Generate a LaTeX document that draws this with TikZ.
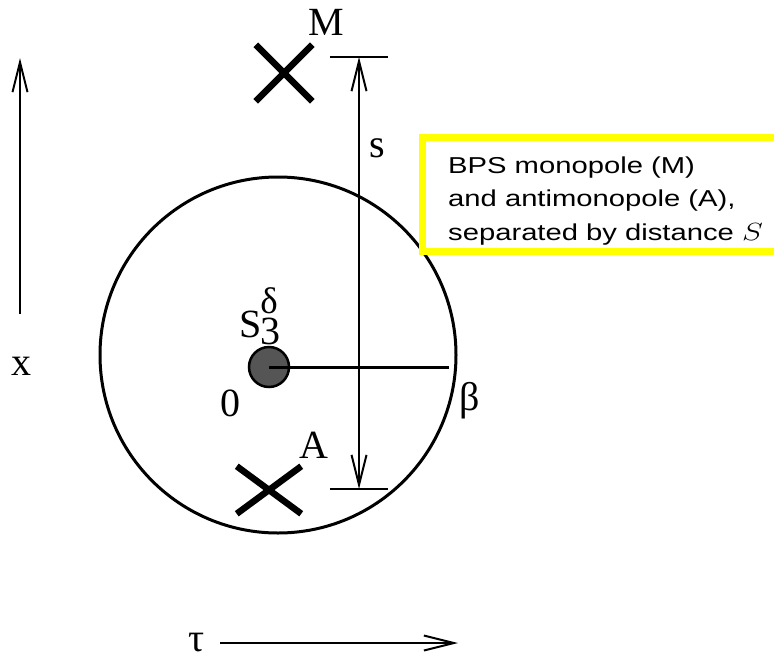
\documentclass[tikz,border=0pt]{standalone}
\usepackage{fontspec}
\usepackage{graphicx}
\setmainfont{Liberation Serif}
\newfontfamily\boxfont{Liberation Sans}
\usetikzlibrary{arrows.meta,shapes.misc}
\definecolor{dotgray}{HTML}{555555}
\definecolor{noteyellow}{HTML}{FFFF00}
\newcommand{\notesize}{\boxfont\fontsize{23pt}{33.5pt}\selectfont}
\tikzset{
  lbl/.style={font=\fontsize{40}{44}\selectfont, inner sep=0pt},
  xmark/.style={cross out, draw, line width=6.5pt, inner sep=0pt},
  axisarrow/.style={line width=2pt, -{Straight Barb[length=30pt,width=15pt,line width=2pt]}},
  dimarrow/.style={line width=2pt, {Straight Barb[length=30pt,width=15pt,line width=2pt]}-{Straight Barb[length=30pt,width=15pt,line width=2pt]}},
  bar/.style={line width=2pt},
}
\begin{document}
\begin{tikzpicture}[x=1pt,y=-1pt]
\useasboundingbox (0,0) rectangle (774,659);
% big circle
\node[circle, draw, line width=3pt, minimum size=356pt, inner sep=0pt] (C) at (278,355) {};
% small dot
\node[circle, draw, fill=dotgray, line width=2.5pt, minimum size=40pt, inner sep=0pt] (O) at (269,367) {};
\coordinate (R) at (449,367);
\draw[line width=3pt] (O.center) -- (R);
% monopole and antimonopole
\node[xmark, minimum width=50pt, minimum height=50pt] (M) at (284,73) {};
\node[xmark, minimum width=58pt, minimum height=41pt] (A) at (269,490) {};
% separation
\coordinate (sT) at (359,57);
\coordinate (sB) at (359,489);
\coordinate (tL) at (330,57);
\coordinate (tR) at (388,57);
\coordinate (bL) at (330,489);
\coordinate (bR) at (388,489);
\draw[bar] (tL) -- (tR);
\draw[bar] (bL) -- (bR);
\draw[dimarrow] (sB) -- (sT);
% axes
\coordinate (x0) at (20,314);
\coordinate (x1) at (20,58);
\draw[axisarrow] (x0) -- (x1);
\coordinate (t0) at (220,643);
\coordinate (t1) at (458,643);
\draw[axisarrow] (t0) -- (t1);
% labels
\node[lbl] (lM) at (326,22) {M};
\node[lbl] (ls) at (377,148) {s};
\node[lbl, anchor=base west] (lS) at (239,337) {S\kern-1pt\makebox[0pt][l]{\raisebox{-7pt}{3}}\raisebox{24pt}{\fontsize{37}{40}\selectfont δ}};
\node[lbl] (l0) at (230,403) {0};
\node[lbl, anchor=base] (lb) at (470,410) {β};
\node[lbl] (lA) at (314,445) {A};
\node[lbl] (lx) at (21,366) {x};
\node[lbl, anchor=base] (lt) at (197,651) {τ};
% note box
\draw[noteyellow, fill=white, line width=7pt] (422.5,137.5) rectangle (782,251.5);
\node[anchor=base west, inner sep=0pt] (note) at (448,173)
  {\scalebox{1.27}[1]{\notesize\begin{tabular}[t]{@{}l@{}}BPS monopole (M)\\and antimonopole (A),\\separated by distance {\fontsize{27pt}{30pt}\selectfont$S$}\end{tabular}}};
\end{tikzpicture}
\end{document}
